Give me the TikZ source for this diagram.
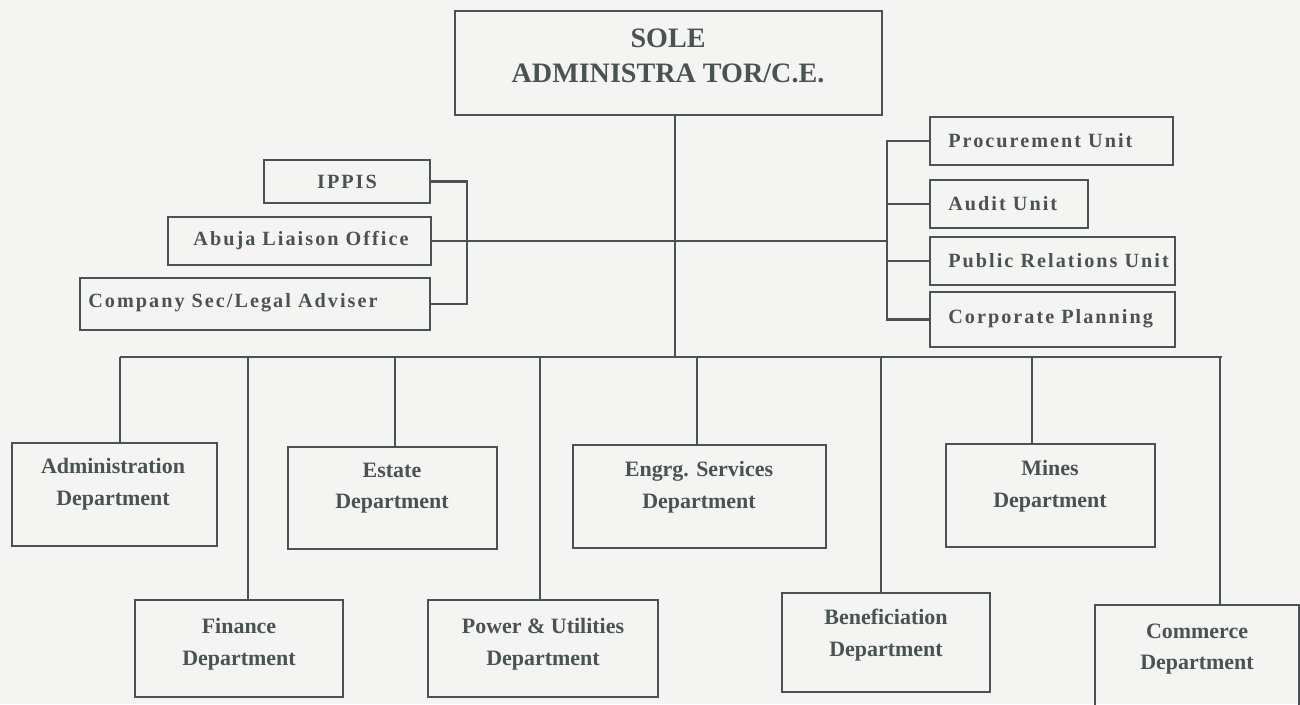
\documentclass[tikz,border=0pt]{standalone}
\usepackage{fontspec}
\setmainfont{Liberation Serif}
\definecolor{ink}{HTML}{4A5353}
\definecolor{paper}{HTML}{F4F4F2}
\newcommand\obox[5]{\node[box, minimum width={(#4-#2)*0.02cm}, minimum height={(#5-#3)*0.02cm}] (#1) at ({(#2+#4)/2},{(#3+#5)/2}) {};}
\begin{document}
\begin{tikzpicture}[x=0.02cm,y=-0.02cm,
  box/.style={draw=ink, line width=1.2pt, inner sep=0pt},
  conn/.style={draw=ink, line width=1.3pt},
  dtxt/.style={text=ink, font=\fontsize{12.5}{18}\selectfont\bfseries, align=center, inner sep=0pt},
  ttxt/.style={text=ink, font=\fontsize{16}{19.5}\selectfont\bfseries, align=center, inner sep=0pt},
  utxt/.style={text=ink, font=\fontsize{11.5}{14}\selectfont\bfseries\addfontfeature{LetterSpace=10}, inner sep=0pt}]
\fill[paper] (0,0) rectangle (1300,704);
\clip (0,0) rectangle (1300,704);
\useasboundingbox (0,0) rectangle (1300,704);
% top
\obox{sole}{455}{11}{882}{115}
\node[ttxt] (sole-t) at (668,56) {SOLE\\ADMINISTRA TOR/C.E.};
% left units
\obox{ippis}{264}{160}{430}{203}
\node[utxt] (ippis-t) at (347,182) {IPPIS};
\obox{abuja}{168}{217}{431}{265}
\node[utxt] (abuja-t) at (301,241) {Abuja Liaison Office};
\obox{company}{80}{278}{430}{330}
\node[utxt, anchor=west] (company-t) at (88,303) {Company Sec/Legal Adviser};
% right units
\obox{proc}{930}{117}{1173}{165}
\node[utxt, anchor=west] (proc-t) at (948,141) {Procurement Unit};
\obox{audit}{930}{180}{1088}{228}
\node[utxt, anchor=west] (audit-t) at (948,204) {Audit Unit};
\obox{pr}{930}{237}{1175}{285}
\node[utxt, anchor=west] (pr-t) at (948,261) {Public Relations Unit};
\obox{corp}{930}{292}{1175}{347}
\node[utxt, anchor=west] (corp-t) at (948,319) {Corporate Planning};
% departments
\obox{admin}{12}{443}{217}{546}
\node[dtxt] (admin-t) at (113,484) {Administration\\Department};
\obox{estate}{288}{447}{497}{549}
\node[dtxt] (estate-t) at (392,488) {Estate\\Department};
\obox{engrg}{573}{445}{826}{548}
\node[dtxt] (engrg-t) at (699,487) {Engrg. Services\\Department};
\obox{mines}{946}{444}{1155}{547}
\node[dtxt] (mines-t) at (1050,486) {Mines\\Department};
\obox{finance}{135}{600}{343}{697}
\node[dtxt] (finance-t) at (239,644) {Finance\\Department};
\obox{power}{428}{600}{658}{697}
\node[dtxt] (power-t) at (543,644) {Power \& Utilities\\Department};
\obox{benef}{782}{593}{990}{692}
\node[dtxt] (benef-t) at (886,635) {Beneficiation\\Department};
\obox{commerce}{1095}{605}{1299}{715}
\node[dtxt] (commerce-t) at (1197,649) {Commerce\\Department};
% connector coordinates
\coordinate (stem) at (675,357);
\coordinate (busL) at (120,357);
\coordinate (busR) at (1222,357);
\coordinate (lb) at (467,0);
\coordinate (rb) at (887,0);
% trunk and bus
\draw[conn] (sole.south -| stem) -- (stem);
\draw[conn] (busL) -- (busR);
% left bracket
\draw[conn] (ippis.east) -- (ippis.east -| lb) -- (company.east -| lb) -- (company.east);
\draw[conn] (abuja.east) -- (abuja.east -| rb);
% right bracket
\draw[conn] (proc.west) -- (proc.west -| rb) -- (corp.west -| rb) -- (corp.west);
\draw[conn] (audit.west) -- (audit.west -| rb);
\draw[conn] (pr.west) -- (pr.west -| rb);
% department drops
\draw[conn] (busL) -- (busL |- admin.north);
\draw[conn] (248,357) -- (248,0 |- finance.north);
\draw[conn] (395,357) -- (395,0 |- estate.north);
\draw[conn] (540,357) -- (540,0 |- power.north);
\draw[conn] (697,357) -- (697,0 |- engrg.north);
\draw[conn] (881,357) -- (881,0 |- benef.north);
\draw[conn] (1032,357) -- (1032,0 |- mines.north);
\draw[conn] (1220,357) -- (1220,0 |- commerce.north);
\end{tikzpicture}
\end{document}
